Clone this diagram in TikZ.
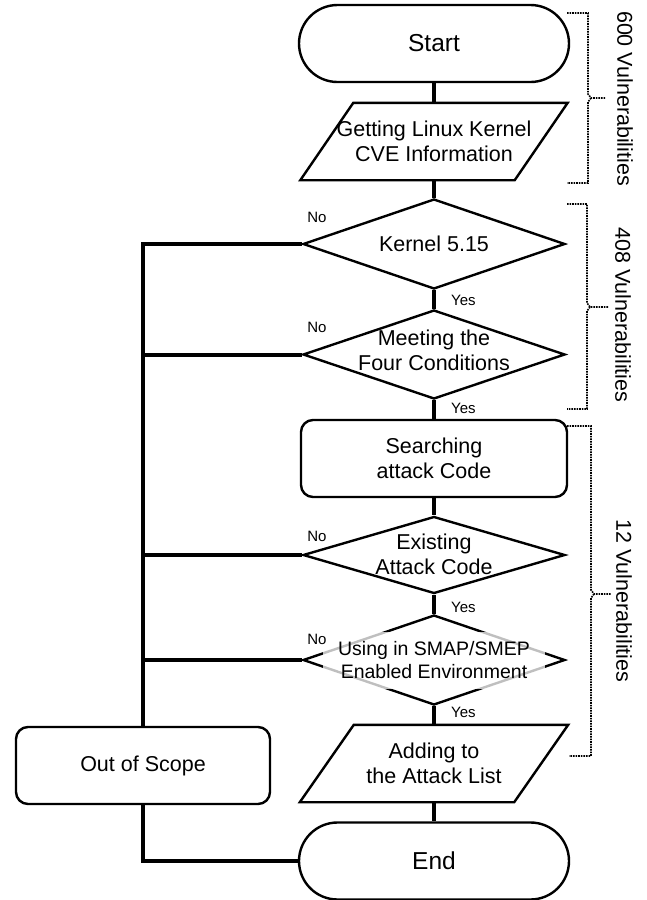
\documentclass[tikz,border=0pt]{standalone}
\usepackage{fontspec}
\setmainfont{Liberation Sans}
\usetikzlibrary{shapes.geometric,shapes.misc,calc}
\newcommand{\mainfs}{\fontsize{21.5}{25}\selectfont}
\begin{document}
\begin{tikzpicture}[x=1pt,y=-1pt,
  conn/.style={line width=4pt},
  bord/.style={draw, line width=2.4pt},
  term/.style={bord, fill=white, rounded rectangle, minimum width=270pt, minimum height=77pt, inner sep=0pt, font=\fontsize{24.5}{28}\selectfont},
  proc/.style={bord, fill=white, rectangle, rounded corners=12pt, minimum height=77pt, inner sep=0pt, align=center, font=\mainfs},
  para/.style={rectangle, minimum width=214pt, minimum height=77pt, inner sep=0pt, align=center, font=\mainfs},
  dec/.style={bord, diamond, minimum width=262pt, inner sep=0pt},
  dectext/.style={align=center, inner sep=0pt, font=\mainfs},
  veil/.style={fill=white, fill opacity=0.75, text opacity=1, align=center, minimum width=222pt, minimum height=57pt, inner sep=0pt, font=\fontsize{19.5}{23}\selectfont},
  small/.style={inner sep=0pt, font=\fontsize{15}{17}\selectfont},
  vlab/.style={rotate=-90, inner sep=0pt, font=\mainfs},
  brace/.style={line width=1.6pt, dash pattern=on 1.6pt off 1pt}
]
\fill[white] (0,0) rectangle (646,900);
\useasboundingbox (0,0) rectangle (646,900);

% nodes
\node[term] (start) at (434,43.5) {Start};
\node[para] (get) at (434,141.5) {\fontsize{21.5}{27.5}\selectfont Getting Linux Kernel\\CVE Information};
\node[dec, minimum height=90pt] (k1) at (434,244) {};
\node[dectext] (k1t) at (434,244) {Kernel 5.15};
\node[dec, minimum height=89pt] (k2) at (434,354.5) {};
\node[dectext] (k2t) at (434,350) {\fontsize{21.5}{26}\selectfont Meeting the\\Four Conditions};
\node[proc, minimum width=266pt] (search) at (434,458.5) {Searching\\attack Code};
\node[dec, minimum height=77pt] (k3) at (434,555) {};
\node[dectext] (k3t) at (434,554) {Existing\\Attack Code};
\node[dec, minimum height=90pt] (k4) at (434,660) {};
\node[veil] (k4t) at (434,660.5) {Using in SMAP/SMEP\\Enabled Environment};
\node[para] (add) at (434,763.5) {Adding to\\the Attack List};
\node[term] (end) at (434,861) {End};
\node[proc, minimum width=254pt] (out) at (143,765.5) {Out of Scope};

% parallelogram outlines
\draw[bord] ($(get.north west)+(26.5,0)$) -- ($(get.north east)+(26.5,0)$) -- ($(get.south east)+(-26.5,0)$) -- ($(get.south west)+(-26.5,0)$) -- cycle;
\draw[bord] ($(add.north west)+(27,0)$) -- ($(add.north east)+(27,0)$) -- ($(add.south east)+(-27,0)$) -- ($(add.south west)+(-27,0)$) -- cycle;

% main flow
\draw[conn] (start.south) -- (get.north);
\draw[conn] (get.south) -- (k1.north);
\draw[conn] (k1.south) -- (k2.north);
\draw[conn] (k2.south) -- (search.north);
\draw[conn] (search.south) -- (k3.north);
\draw[conn] (k3.south) -- (k4.north);
\draw[conn] (k4.south) -- (add.north);
\draw[conn] (add.south) -- (end.north);

% no branches
\draw[conn] (k1.west) -| (out.north);
\draw[conn] (k2.west) -- (k2.west -| out.north);
\draw[conn] (k3.west) -- (k3.west -| out.north);
\draw[conn] (k4.west) -- (k4.west -| out.north);
\draw[conn] (out.south) |- (end.west);

% labels
\node[small] (n1) at (317,217) {No};
\node[small] (n2) at (317,327) {No};
\node[small] (n3) at (317,536) {No};
\node[small] (n4) at (317,639) {No};
\node[small, anchor=west] (y1) at (451,300) {Yes};
\node[small, anchor=west] (y2) at (451,408) {Yes};
\node[small, anchor=west] (y3) at (451,607) {Yes};
\node[small, anchor=west] (y4) at (451,712) {Yes};

% braces
\draw[brace] (567,13) -- (588,13) -- (588,94) -- (591,98) -- (605,98);
\draw[brace] (591,98) -- (588,102) -- (588,183) -- (567,183);
\draw[brace] (567,204) -- (587,204) -- (587,303) -- (590,307) -- (609,307);
\draw[brace] (590,307) -- (587,311) -- (587,409) -- (567,409);
\draw[brace] (567,426) -- (591,426) -- (591,590) -- (594,594) -- (611,594);
\draw[brace] (594,594) -- (591,598) -- (591,756) -- (569,756);

\node[vlab] (v1) at (625,98.5) {600 Vulnerabilities};
\node[vlab] (v2) at (623,315) {408 Vulnerabilities};
\node[vlab] (v3) at (624,601) {12 Vulnerabilities};
\end{tikzpicture}
\end{document}
